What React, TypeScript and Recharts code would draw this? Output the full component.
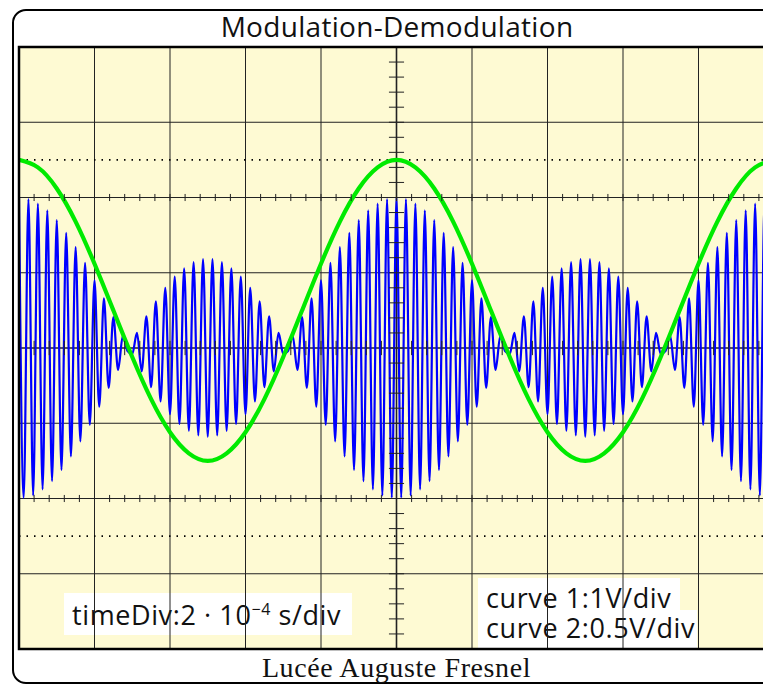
import { LineChart, Line, XAxis, YAxis, ReferenceLine } from "recharts";

// curve 1: modulated carrier, one value per half period (divisions)
const carrierPeaks = [
  2.0, -1.99, 1.98, -1.96, 1.92, -1.88, 1.83, -1.77, 1.7, -1.62, 1.53, -1.44, 1.34, -1.24, 1.13, -1.02,
  0.9, -0.78, 0.66, -0.53, 0.41, -0.29, 0.16, -0.04, -0.08, 0.2, -0.31, 0.42, -0.52, 0.62, -0.71, 0.8,
  -0.88, 0.95, -1.01, 1.06, -1.1, 1.14, -1.16, 1.18, -1.18,
  1.18, -1.16, 1.14, -1.1, 1.06, -1.01, 0.95, -0.88, 0.8, -0.71, 0.62, -0.52, 0.42, -0.31, 0.2, -0.08,
  -0.04, 0.16, -0.29, 0.41, -0.53, 0.66, -0.78, 0.9, -1.02, 1.13, -1.24, 1.34, -1.44, 1.53, -1.62, 1.7,
  -1.77, 1.83, -1.88, 1.92, -1.96, 1.98, -1.99, 2.0,
  -1.99, 1.98, -1.96, 1.92, -1.88, 1.83, -1.77, 1.7, -1.62, 1.53, -1.44, 1.34, -1.24, 1.13, -1.02,
  0.9, -0.78, 0.66, -0.53, 0.41, -0.29, 0.16, -0.04, -0.08, 0.2, -0.31, 0.42, -0.52, 0.62, -0.71, 0.8,
  -0.88, 0.95, -1.01, 1.06, -1.1, 1.14, -1.16, 1.18, -1.18,
  1.18, -1.16, 1.14, -1.1, 1.06, -1.01, 0.95, -0.88, 0.8, -0.71, 0.62, -0.52, 0.42, -0.31, 0.2, -0.08,
  -0.04, 0.16, -0.29, 0.41, -0.53, 0.66, -0.78, 0.9, -1.02, 1.13, -1.24, 1.34, -1.44, 1.53, -1.62, 1.7,
  -1.77, 1.83, -1.88, 1.92, -1.96, 1.98, -1.99, 2.0,
];
const carrierStep = 0.0625;

// curve 2: demodulated signal, read every quarter division
const demodulated = [
  2.5, 2.4, 2.12, 1.68, 1.12, 0.5, -0.12, -0.68, -1.12, -1.4, -1.5, -1.4, -1.12, -0.68, -0.12, 0.5,
  1.12, 1.68, 2.12, 2.4, 2.5, 2.4, 2.12, 1.68, 1.12, 0.5, -0.12, -0.68, -1.12, -1.4, -1.5, -1.4,
  -1.12, -0.68, -0.12, 0.5, 1.12, 1.68, 2.12, 2.4, 2.5,
];
const demodStep = 0.25;

const gridX = [1, 2, 3, 4, 5, 6, 7, 8, 9];
const gridY = [-3, -2, -1, 0, 1, 2, 3];
const dottedY = [-2.5, 2.5];
const tickedRows = [-2, 0, 2];
const minorX = Array.from({ length: 51 }, (_, i) => i / 5);
const minorY = Array.from({ length: 41 }, (_, i) => -4 + i / 5);

const title = "Modulation-Demodulation";
const author = "Lucée Auguste Fresnel";
const timeDivText = ["timeDiv:2 · 10", "−4", " s/div"];
const curveLines = ["curve 1:1V/div", "curve 2:0.5V/div"];

const blueData = carrierPeaks.map((v, i) => ({ t: i * carrierStep, v }));
const greenData = demodulated.map((v, i) => ({ t: i * demodStep, v }));

const W = 755;
const H = 602;
const sans = "'Open Sans', Lato, sans-serif";

export default function App() {
  return (
    <div style={{ position: "relative", width: 763, height: 676, overflow: "hidden" }}>
      <svg width={790} height={690} style={{ position: "absolute", left: 0, top: 0 }}>
        <rect x={5} y={2} width={770} height={673} rx={13} fill="#fff" stroke="#000" strokeWidth={2} />
        <text x={389} y={29} textAnchor="middle" fontFamily={sans} fontSize={28} letterSpacing={0.3} fill="#111">
          {title}
        </text>
        <text
          x={388.5}
          y={669}
          textAnchor="middle"
          fontFamily="'Liberation Serif', serif"
          fontSize={28}
          letterSpacing={0.6}
          fill="#111"
        >
          {author}
        </text>
        <rect x={11} y={39} width={W} height={H} fill="#fefad3" />
        <rect x={56} y={585} width={288} height={42} fill="#fff" />
        <rect x={470} y={570} width={202} height={32} fill="#fff" />
        <rect x={470} y={602} width={219} height={40} fill="#fff" />
        <text x={64} y={617} fontFamily={sans} fontSize={27} letterSpacing={0.6} fill="#111">
          {timeDivText[0]}
          <tspan dy={-10} fontSize={16}>{timeDivText[1]}</tspan>
          <tspan dy={10}>{timeDivText[2]}</tspan>
        </text>
        <text x={478} y={600} fontFamily={sans} fontSize={27} letterSpacing={0.6} fill="#111">
          <tspan x={478} y={600}>{curveLines[0]}</tspan>
          <tspan x={478} y={630}>{curveLines[1]}</tspan>
        </text>
      </svg>

      <div style={{ position: "absolute", left: 11, top: 39 }}>
        <LineChart width={W} height={H} margin={{ top: 0, right: 0, bottom: 0, left: 0 }}>
          <XAxis type="number" dataKey="t" domain={[0, 10]} hide allowDataOverflow />
          <YAxis type="number" domain={[-4, 4]} hide allowDataOverflow />
          {gridX.map((x) => (
            <ReferenceLine key={`gx${x}`} x={x} stroke="#222" strokeWidth={x === 5 ? 1.6 : 1} />
          ))}
          {gridY.map((y) => (
            <ReferenceLine key={`gy${y}`} y={y} stroke="#222" strokeWidth={y === 0 ? 1.6 : 1} />
          ))}
          {dottedY.map((y) => (
            <ReferenceLine key={`d${y}`} y={y} stroke="#000" strokeWidth={1.6} strokeDasharray="1.5 6" />
          ))}
          <Line
            data={blueData}
            dataKey="v"
            type="monotone"
            stroke="#0000ff"
            strokeWidth={2.2}
            dot={false}
            isAnimationActive={false}
          />
          <Line
            data={greenData}
            dataKey="v"
            type="natural"
            stroke="#00ea00"
            strokeWidth={4.2}
            dot={false}
            isAnimationActive={false}
          />
          {tickedRows.map((row) =>
            minorX.map((x) => {
              const h = row === 0 ? 0.095 : 0.047;
              return (
                <ReferenceLine
                  key={`tx${row}_${x}`}
                  segment={[
                    { x, y: row - h },
                    { x, y: row + h },
                  ]}
                  stroke="#222"
                  strokeWidth={1}
                />
              );
            })
          )}
          {minorY.map((y) => (
            <ReferenceLine
              key={`ty${y}`}
              segment={[
                { x: 4.9, y },
                { x: 5.1, y },
              ]}
              stroke="#222"
              strokeWidth={1}
            />
          ))}
        </LineChart>
      </div>

      <svg width={790} height={690} style={{ position: "absolute", left: 0, top: 0, pointerEvents: "none" }}>
        <rect x={11} y={39} width={W} height={H} fill="none" stroke="#000" strokeWidth={2.5} />
      </svg>
    </div>
  );
}
